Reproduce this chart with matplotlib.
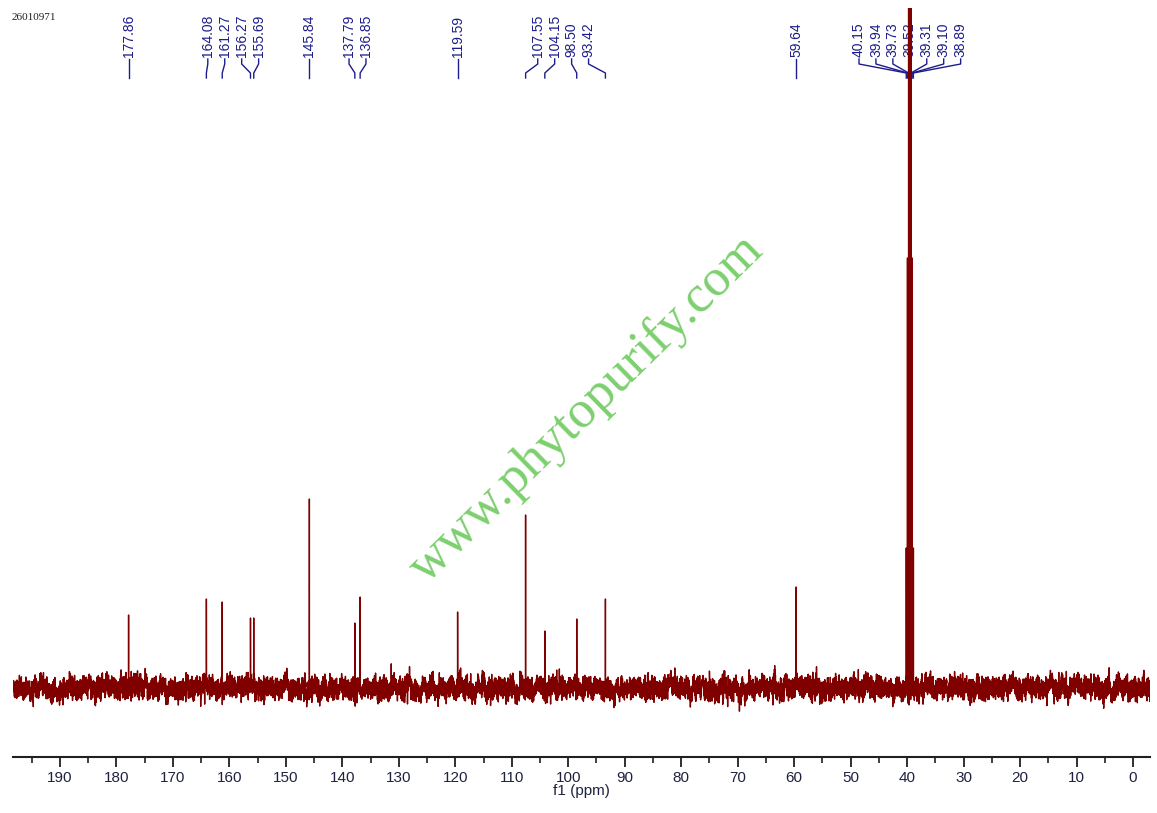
import numpy as np
import matplotlib
matplotlib.use('Agg')
import matplotlib.pyplot as plt
import matplotlib.transforms as mtransforms

# peak list (ppm) and heights above baseline (approx. screen px)
shifts = [177.86, 164.08, 161.27, 156.27, 155.69, 145.84, 137.79, 136.85,
          119.59, 107.55, 104.15, 98.50, 93.42, 59.64,
          40.15, 39.94, 39.73, 39.52, 39.31, 39.10, 38.89]
heights = [73, 89, 86, 70, 70, 189, 65, 91,
           76, 173, 57, 69, 89, 101,
           140, 430, 900, 1200, 900, 430, 140]
xticks = list(range(190, -1, -10))
sample_id = '26010971'
watermark = 'www.phytopurify.com'

# axis range
x_left, x_right = 198.32, -3.01

fig = plt.figure(figsize=(11.57, 8.13), dpi=100)
ax = fig.add_axes([13 / 1157, 56 / 813, 1137 / 1157, 749 / 813])

# spectrum: baseline noise texture + the picked peaks as sharp lines
rng = np.random.default_rng(7)
ppm = np.linspace(x_left, x_right, 14000)
spec = rng.normal(0, 5.0, ppm.size)
spec += np.convolve(rng.normal(0, 3.0, ppm.size), np.ones(25) / 5, mode='same')
for s, h in zip(shifts, heights):
    i = np.argmin(np.abs(ppm - s))
    spec[i] = h
ax.plot(ppm, spec, color='#800000', lw=1.0, zorder=3)

ax.set_xlim(x_left, x_right)
ax.set_ylim(-69, 680)

# axis styling, only the bottom line
for side in ['top', 'left', 'right']:
    ax.spines[side].set_visible(False)
ax.spines['bottom'].set_linewidth(1.5)
ax.spines['bottom'].set_color('#202020')
ax.set_yticks([])
ax.set_xticks(xticks)
ax.set_xticks(np.arange(195, -1, -5), minor=True)
ax.tick_params(axis='x', which='major', length=7, width=1.3, pad=3,
               labelsize=11, labelcolor='#1e2240', color='#202020')
ax.tick_params(axis='x', which='minor', length=4, width=1.2, color='#202020')
for lab in ax.get_xticklabels():
    lab.set_family('Liberation Sans')
ax.set_xlabel('f1 (ppm)', fontsize=11, family='Liberation Sans',
              color='#1e2240', labelpad=-1)

# peak labels, spread out in groups like the NMR software does
def fa(p):
    return (757 - p) / 749

trans = mtransforms.blended_transform_factory(ax.transData, ax.transAxes)
gap = 3.0
groups = [[0]]
for i in range(1, len(shifts)):
    if shifts[i - 1] - shifts[i] < 6.5:
        groups[-1].append(i)
    else:
        groups.append([i])

label_x = [0.0] * len(shifts)
for g in groups:
    c = np.mean([shifts[i] for i in g])
    n = len(g)
    for k, i in enumerate(g):
        label_x[i] = c + (n - 1) / 2 * gap - k * gap

navy = '#1c1c8a'
for s, lx in zip(shifts, label_x):
    ax.plot([lx, lx, s, s], [fa(59), fa(64), fa(73), fa(78)], color=navy,
            lw=1.0, transform=trans, clip_on=False, zorder=2)
    ax.text(lx, fa(57), f'{s:.2f}', rotation=90, rotation_mode='anchor',
            ha='left', va='center', fontsize=10, family='Liberation Sans',
            color=navy, transform=trans, zorder=2)

fig.text(12 / 1157, 1 - 17 / 813, sample_id, fontsize=8, family='Liberation Serif',
         color='#202020', va='center', ha='left')

fig.text(587 / 1157, 1 - 409 / 813, watermark, fontsize=38, family='Liberation Serif',
         color='#7ccf6e', rotation=44.4, ha='center', va='center', zorder=1)

fig.savefig('out.png', dpi=100)
